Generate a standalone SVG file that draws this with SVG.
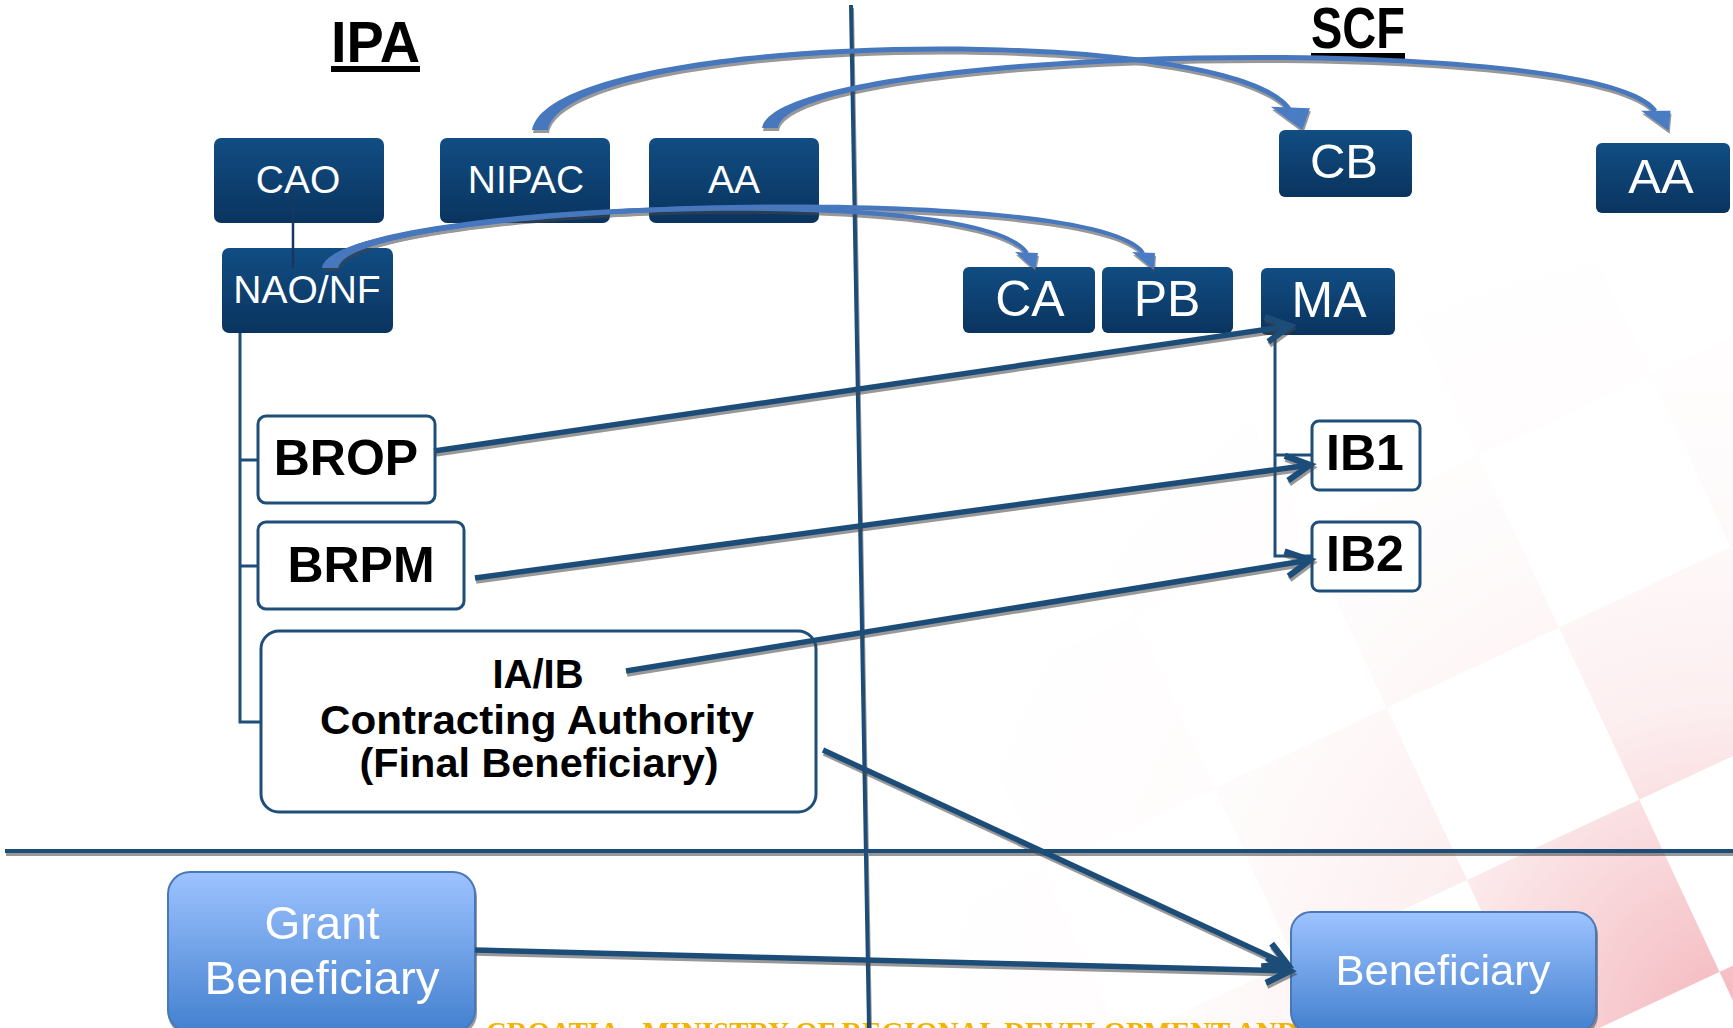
<svg xmlns="http://www.w3.org/2000/svg" width="1733" height="1028" viewBox="0 0 1733 1028">
<defs>
<style>
.dk{fill:url(#gDark)}
.wt{fill:#ffffff;stroke:#1F4E79;stroke-width:3}
.lt{fill:url(#gLight);stroke:#4A78B6;stroke-width:2}
.wl{font-family:"Liberation Sans",Arial,sans-serif;fill:#ffffff;text-anchor:middle}
.bl{font-family:"Liberation Sans",Arial,sans-serif;font-weight:bold;fill:#000000;text-anchor:middle}
.tree{fill:none;stroke:#1F4E79;stroke-width:3}
.str{fill:none;stroke:#1F4E79;stroke-width:5.5;marker-end:url(#open)}
.rib{fill:#4677BD}
.head{fill:#4A7CC2}
</style>
<linearGradient id="gDark" x1="0" y1="0" x2="0" y2="1"><stop offset="0" stop-color="#114D83"/><stop offset="1" stop-color="#0A345F"/></linearGradient>
<linearGradient id="gLight" x1="0" y1="0" x2="0" y2="1"><stop offset="0" stop-color="#9DC3FF"/><stop offset="1" stop-color="#4380CF"/></linearGradient>
<pattern id="chk" width="380" height="380" patternUnits="userSpaceOnUse" patternTransform="translate(1467 880) rotate(-25)"><rect width="190" height="190" fill="#EE959E"/><rect x="190" y="190" width="190" height="190" fill="#EE959E"/></pattern>
<radialGradient id="fade" cx="1733" cy="1028" r="820" gradientUnits="userSpaceOnUse"><stop offset="0" stop-color="#b0b0b0"/><stop offset="0.2" stop-color="#6a6a6a"/><stop offset="0.4" stop-color="#262626"/><stop offset="0.65" stop-color="#0a0a0a"/><stop offset="1" stop-color="#000"/></radialGradient>
<mask id="fm"><rect width="1733" height="1028" fill="url(#fade)"/></mask>
<filter id="sh" x="-5%" y="-20%" width="110%" height="140%"><feDropShadow dx="1" dy="3" stdDeviation="0.6" flood-color="#444" flood-opacity="0.55"/></filter>
<marker id="open" markerUnits="userSpaceOnUse" markerWidth="40" markerHeight="40" viewBox="-26 -16 30 32" refX="0" refY="0" orient="auto" overflow="visible"><path d="M-19,-10 L0,0 L-19,10" fill="none" stroke="#1F4E79" stroke-width="5"/></marker>
</defs>
<rect width="1733" height="1028" fill="#ffffff"/>
<g id="watermark"><rect width="1733" height="1028" fill="url(#chk)" mask="url(#fm)"/></g>
<text id="footer" x="486" y="1042" font-family="'Liberation Serif',serif" font-weight="bold" font-size="30" fill="#F2B400" textLength="812" lengthAdjust="spacingAndGlyphs">CROATIA - MINISTRY OF REGIONAL DEVELOPMENT AND</text>

<g id="titles">
<text x="375.5" y="62" class="bl" font-size="58" textLength="89" lengthAdjust="spacingAndGlyphs">IPA</text>
<rect x="331" y="66" width="89" height="6" fill="#000"/>
<text x="1358" y="48" class="bl" font-size="57" textLength="94" lengthAdjust="spacingAndGlyphs">SCF</text>
<rect x="1311" y="53" width="94" height="6" fill="#000"/>
</g>

<g id="dividers" filter="url(#sh)">
<line x1="5" y1="851" x2="1733" y2="851" stroke="#1F4E79" stroke-width="4"/>
<line x1="851" y1="5" x2="869" y2="1028" stroke="#1F4E79" stroke-width="4"/>
</g>

<g id="nodes">
<g id="CAO"><rect class="dk" x="214" y="138" width="170" height="85" rx="7"/><text class="wl" x="298" y="193" font-size="39">CAO</text></g>
<g id="NIPAC"><rect class="dk" x="440" y="138" width="170" height="85" rx="7"/><text class="wl" x="526" y="193" font-size="39">NIPAC</text></g>
<g id="AA_IPA"><rect class="dk" x="649" y="138" width="170" height="85" rx="7"/><text class="wl" x="734" y="193" font-size="39">AA</text></g>
<g id="NAO_NF"><rect class="dk" x="222" y="248" width="171" height="85" rx="7"/><text class="wl" x="307" y="303" font-size="39">NAO/NF</text></g>
<g id="CB"><rect class="dk" x="1279" y="130" width="133" height="67" rx="6"/><text class="wl" x="1344" y="178" font-size="49">CB</text></g>
<g id="AA_SCF"><rect class="dk" x="1596" y="143" width="134" height="70" rx="6"/><text class="wl" x="1661" y="193" font-size="49">AA</text></g>
<g id="CA"><rect class="dk" x="963" y="267" width="132" height="66" rx="6"/><text class="wl" x="1030" y="316" font-size="50">CA</text></g>
<g id="PB"><rect class="dk" x="1102" y="267" width="131" height="66" rx="6"/><text class="wl" x="1167" y="316" font-size="50">PB</text></g>
<g id="MA"><rect class="dk" x="1261" y="268" width="134" height="67" rx="6"/><text class="wl" x="1329" y="317" font-size="50">MA</text></g>
<g id="BROP"><rect class="wt" x="258" y="416" width="177" height="87" rx="8"/><text class="bl" x="346" y="475" font-size="50">BROP</text></g>
<g id="BRPM"><rect class="wt" x="258" y="522" width="206" height="87" rx="8"/><text class="bl" x="361" y="582" font-size="50">BRPM</text></g>
<g id="IB1"><rect class="wt" x="1312" y="421" width="108" height="69" rx="7"/><text class="bl" x="1365" y="470" font-size="50">IB1</text></g>
<g id="IB2"><rect class="wt" x="1312" y="522" width="108" height="69" rx="7"/><text class="bl" x="1365" y="571" font-size="50">IB2</text></g>
<g id="IA_IB"><rect class="wt" x="261" y="631" width="555" height="181" rx="18"/>
<text class="bl" x="538" y="688" font-size="40">IA/IB</text>
<line x1="262" y1="703" x2="808" y2="703" stroke="#000" stroke-width="4" filter="url(#sh)"/>
<text class="bl" x="537" y="734" font-size="40" textLength="434" lengthAdjust="spacingAndGlyphs">Contracting Authority</text>
<text class="bl" x="539" y="777" font-size="40" textLength="359" lengthAdjust="spacingAndGlyphs">(Final Beneficiary)</text></g>
<g id="GrantBeneficiary" filter="url(#sh)"><rect class="lt" x="168" y="872" width="307" height="160" rx="22"/>
<text class="wl" x="322" y="939" font-size="46">Grant</text>
<text class="wl" x="322" y="994" font-size="46" textLength="235" lengthAdjust="spacingAndGlyphs">Beneficiary</text></g>
<g id="Beneficiary" filter="url(#sh)"><rect class="lt" x="1291" y="912" width="305" height="120" rx="20"/>
<text class="wl" x="1443" y="985" font-size="42" textLength="215" lengthAdjust="spacingAndGlyphs">Beneficiary</text></g>
</g>

<g id="connectors">
<g id="trees">
<line x1="293" y1="190" x2="293" y2="268" stroke="#16385E" stroke-width="2.5"/>
<path class="tree" d="M240,333 V722 H261 M240,460 H258 M240,566 H258"/>
<path class="tree" d="M1275,335 V556 H1312 M1275,455 H1312"/>
</g>
<g id="straight" filter="url(#sh)">
<path class="str" d="M434,451 L1290,326"/>
<path class="str" d="M475,578 L1310,465"/>
<path class="str" d="M626,671 L1310,560"/>
<path class="str" d="M823,750 L1288,965"/>
<path class="str" d="M475,950 L1290,971"/>
</g>
<g id="curved" filter="url(#sh)">
<path class="rib" d="M532,130 C553,27 1232,19 1291,107.6 L1287,110.4 C1228,25 567,33 548,130 Z"/>
<polygon class="head" points="1270.8,106.7 1309.9,108.3 1302.4,130"/>
<path class="rib" d="M762,128 C778,42 1602,27 1657,109.6 L1653,112.4 C1598,33 792,48 778,128 Z"/>
<polygon class="head" points="1641,110.7 1670.5,110.7 1668.7,130.7"/>
<path class="rib" d="M322,268 C333,202 982,177 1028.7,251.9 L1025.3,254.1 C978,183 347,208 338,268 Z"/>
<polygon class="head" points="1015,252 1038,253 1035,270"/>
<path class="rib" d="M322,268 C333,197 1097,177 1144.7,251.9 L1141.3,254.1 C1093,183 347,203 338,268 Z"/>
<polygon class="head" points="1132,252 1155,253 1154,270"/>
</g>
</g>
</svg>
